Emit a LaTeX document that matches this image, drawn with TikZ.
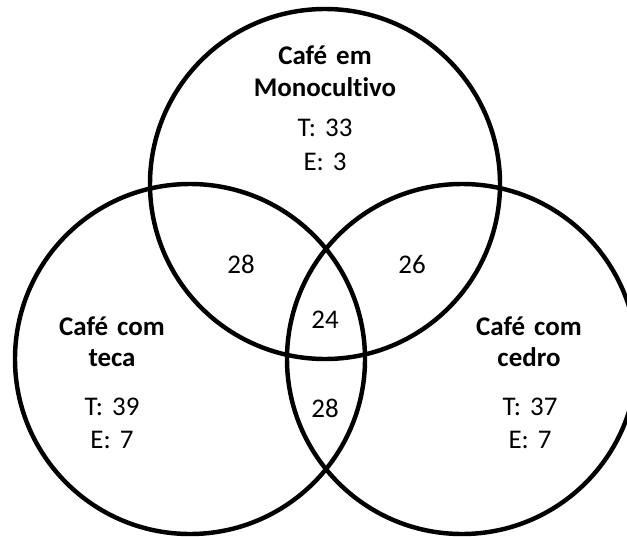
\documentclass[tikz,border=0pt]{standalone}
\usepackage{fontspec}
\setmainfont{Carlito}[Ligatures=NoCommon]
\usetikzlibrary{positioning}
\frenchspacing

\tikzset{
  venn/.style={draw, circle, line width=3.8pt, minimum size=10.5cm},
  title/.style={font=\fontsize{23}{27.3}\selectfont\bfseries,
                text width=6cm, align=center, inner sep=0pt, anchor=base},
  stats/.style={font=\fontsize{23}{28.5}\selectfont,
                text width=4cm, align=center, inner sep=0pt, anchor=base},
  count/.style={font=\fontsize{23}{27}\selectfont, inner sep=0pt, anchor=base}
}

\begin{document}
\begin{tikzpicture}[x=0.03cm, y=-0.03cm]
  \useasboundingbox (0,0) rectangle (627,536);
  \clip (0,0) rectangle (627,536);

  % the three sets
  \node[venn] (mono) at (325,184) {};
  \node[venn] (teca) at (190,359) {};
  \node[venn] (cedro) at (462,359) {};

  % set labels
  \node[title] (monoT) at (325,65) {Café em\\Monocultivo};
  \node[stats] (monoS) at (325,137) {T: 33\\E: 3};
  \node[title] (tecaT) at (112,335) {Café com\\teca};
  \node[stats] (tecaS) at (112,415) {T: 39\\E: 7};
  \node[title] (cedroT) at (529,335) {Café com\\cedro};
  \node[stats] (cedroS) at (530,415) {T: 37\\E: 7};

  % overlaps
  \node[count] (mt) at (241,273) {28};
  \node[count] (mc) at (412,273) {26};
  \node[count] (all) at (325,328) {24};
  \node[count] (tc) at (325,417) {28};
\end{tikzpicture}
\end{document}
